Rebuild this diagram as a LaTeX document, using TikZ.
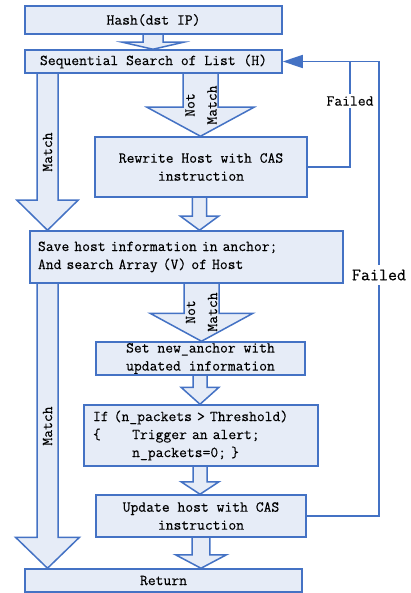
\documentclass[tikz,border=0pt]{standalone}
\usepackage{fontspec}
\newfontfamily\flowfont{Latin Modern Mono}[FakeBold=0.3]
\usetikzlibrary{calc,arrows.meta}
\pgfdeclarelayer{background}
\pgfsetlayers{background,main}
\definecolor{flowline}{RGB}{68,114,196}
\definecolor{flowfill}{RGB}{230,236,247}
\tikzset{
  box/.style={draw=flowline, fill=flowfill, line width=1.5pt, inner sep=0pt,
    font=\flowfont\fontsize{15.2}{18}\selectfont, align=center},
  blockarrow/.style={draw=flowline, fill=flowfill, line width=1.5pt, line join=miter},
  feedback/.style={draw=flowline, line width=1.5pt},
  lbl/.style={font=\flowfont\fontsize{15.2}{22}\selectfont, align=center, inner sep=0pt},
  faillbl/.style={fill=white, inner xsep=1pt, inner ysep=2pt}
}
% Block arrow from the bottom of #1 to the top of #2 along the vertical x=#3;
% #4 shaft half width, #5 head half width, #6 head length (all in pt)
\newcommand\blockarrow[6]{%
  \filldraw[blockarrow] let \p1=(#3,0 |- #1.south), \p2=(#3,0 |- #2.north) in
    (\x1-#4pt,\y1) -- (\x1-#4pt,\y2+#6pt) -- (\x1-#5pt,\y2+#6pt) -- (\x1,\y2)
    -- (\x1+#5pt,\y2+#6pt) -- (\x1+#4pt,\y2+#6pt) -- (\x1+#4pt,\y1);
}
\begin{document}
\begin{tikzpicture}[x=1pt,y=-1pt]
\useasboundingbox (0,0) rectangle (410,593);

% process boxes
\node[box, minimum width=257pt, minimum height=28pt] (hash) at (153.5,20) {Hash(dst IP)};
\node[box, minimum width=257pt, minimum height=23pt] (seq) at (153.5,61.5) {Sequential Search of List (H)};
\node[box, minimum width=212pt, minimum height=60pt] (rewrite) at (201,167) {Rewrite Host with CAS\\instruction};
\node[box, minimum width=313pt, minimum height=52pt, text width=297pt, inner xsep=8pt, align=left]
  (save) at (186.5,257) {Save host information in anchor;\\And search Array (V) of Host};
\node[box, minimum width=209pt, minimum height=33pt] (setnew) at (200.5,358.5) {Set new\_anchor with\\updated information};
\node[box, minimum width=234pt, minimum height=61pt, text width=216pt, inner xsep=9pt, align=left]
  (cond) at (201,435.5) {If (n\_packets > Threshold)\\\{\phantom{xxxx}Trigger an alert;\\\phantom{xxxxx}n\_packets=0; \}};
\node[box, minimum width=210pt, minimum height=42pt] (update) at (201,516) {Update host with CAS\\instruction};
\node[box, minimum width=277pt, minimum height=23pt] (ret) at (163.5,580.5) {Return};

% block arrows between the boxes
\begin{pgfonlayer}{background}
\blockarrow{hash}{seq}{153}{10}{30.5}{7}
\blockarrow{seq}{save}{47.5}{10.5}{30.5}{30}
\blockarrow{seq}{rewrite}{200.5}{17.5}{53.5}{29}
\blockarrow{rewrite}{save}{199.5}{7.2}{19}{14}
\blockarrow{save}{ret}{47.5}{10.5}{32}{31}
\blockarrow{save}{setnew}{201.5}{17.5}{51.5}{28}
\blockarrow{setnew}{cond}{200}{7}{19}{17}
\blockarrow{cond}{update}{200}{7}{19}{12.5}
\blockarrow{update}{ret}{201}{8.8}{25.5}{13.5}
\end{pgfonlayer}

% labels inside the block arrows
\node[lbl, rotate=90] (m1) at (47.5,152) {Match};
\node[lbl, rotate=90] (m2) at (47.5,426) {Match};
\node[lbl, rotate=90] (nm1) at (201,105) {Not\\Match};
\node[lbl, rotate=90] (nm2) at (201.5,312) {Not\\Match};

% retry loops back to the list search
\coordinate (jin) at (350,61.5);
\coordinate (jout) at (379,61.5);
\draw[feedback] (rewrite.east) -| (jin);
\draw[feedback, -{Triangle[length=20pt,width=13pt]}] (update.east) -| (jout) -- (seq.east);
\node[faillbl, font=\flowfont\fontsize{15.2}{16}\selectfont] (f1) at (350,101) {Failed};
\node[faillbl, inner ysep=5pt, font=\flowfont\fontsize{17.5}{18}\selectfont] (f2) at (379,275) {Failed};
\end{tikzpicture}
\end{document}
